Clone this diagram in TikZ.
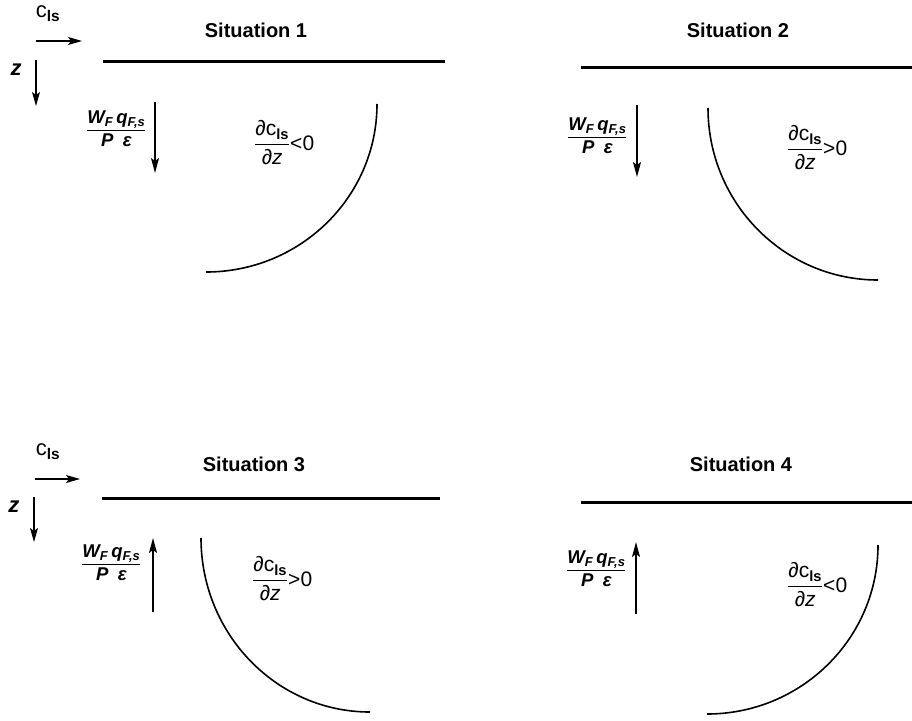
\documentclass[tikz,border=0pt]{standalone}
\usepackage{amsmath}
\usepackage{fontspec}
\setmainfont{Liberation Sans}
\usetikzlibrary{arrows.meta}

\newcommand{\fluxfrac}{$\dfrac{\text{\bfseries\itshape W\textsubscript{F}\,q\textsubscript{F,s}}}{\text{\bfseries\itshape P\enspace ε}}$}
\newcommand{\gradfrac}[1]{$\dfrac{\text{∂c\textsubscript{\bfseries ls}}}{\text{∂\itshape z}}$#1}

\begin{document}
\begin{tikzpicture}[x=1pt, y=-1pt,
  wall/.style={line width=3pt},
  front/.style={line width=1.6pt},
  axis/.style={line width=1.2pt, -{Stealth[length=14pt, width=8pt, inset=3pt]}},
  flux/.style={line width=1.3pt, -{Stealth[length=15pt, width=8pt, inset=3pt]}},
  lab/.style={font=\fontsize{18.5}{22}\selectfont, inner sep=0pt},
  grad/.style={font=\fontsize{21}{24}\selectfont, inner sep=0pt},
  axlab/.style={font=\fontsize{22}{24}\selectfont, inner sep=0pt},
  title/.style={font=\fontsize{20}{24}\selectfont\bfseries, inner sep=0pt}]

\useasboundingbox (0,0) rectangle (912,720);

% axes (situations 1 and 3)
\coordinate (ax1) at (36,41);   \coordinate (ax1x) at (82,41);
\coordinate (az1) at (36,60);   \coordinate (az1z) at (36,106);
\coordinate (ax3) at (35,479);  \coordinate (ax3x) at (80,479);
\coordinate (az3) at (34,497);  \coordinate (az3z) at (34,542);

\draw[axis] (ax1) -- (ax1x);
\draw[axis] (az1) -- (az1z);
\draw[axis] (ax3) -- (ax3x);
\draw[axis] (az3) -- (az3z);

\node[axlab] (cls1) at (48,14) {c\textsubscript{\bfseries ls}};
\node[axlab] (z1) at (16,70) {\bfseries\itshape z};
\node[axlab] (cls3) at (48,452) {c\textsubscript{\bfseries ls}};
\node[axlab] (z3) at (14,507) {\bfseries\itshape z};

% titles
\node[title] (t1) at (256,30) {Situation 1};
\node[title] (t2) at (738,30) {Situation 2};
\node[title] (t3) at (254,464) {Situation 3};
\node[title] (t4) at (741,464) {Situation 4};

% walls
\coordinate (w1a) at (103,61);  \coordinate (w1b) at (445,61);
\coordinate (w2a) at (581,67);  \coordinate (w2b) at (912,67);
\coordinate (w3a) at (102,498); \coordinate (w3b) at (440,498);
\coordinate (w4a) at (581,502); \coordinate (w4b) at (912,502);

\draw[wall] (w1a) -- (w1b);
\draw[wall] (w2a) -- (w2b);
\draw[wall] (w3a) -- (w3b);
\draw[wall] (w4a) -- (w4b);

% flux terms
\node[lab, anchor=base west] (f1) at (86,135) {\fluxfrac};
\node[lab, anchor=base west] (f2) at (567,142) {\fluxfrac};
\node[lab, anchor=base west] (f3) at (81,569) {\fluxfrac};
\node[lab, anchor=base west] (f4) at (566,575) {\fluxfrac};

\coordinate (q1a) at (155,102); \coordinate (q1b) at (155,173);
\coordinate (q2a) at (637,105); \coordinate (q2b) at (637,177);
\coordinate (q3a) at (153,612); \coordinate (q3b) at (153,538);
\coordinate (q4a) at (636,614); \coordinate (q4b) at (636,542);

\draw[flux] (q1a) -- (q1b);
\draw[flux] (q2a) -- (q2b);
\draw[flux] (q3a) -- (q3b);
\draw[flux] (q4a) -- (q4b);

% fronts
\coordinate (c1) at (377,104);
\coordinate (c2) at (708,108);
\coordinate (c3) at (201,538);
\coordinate (c4) at (878,545);

\draw[front] (c1) arc[start angle=0, end angle=90, x radius=171, y radius=168];
\draw[front] (c2) arc[start angle=180, end angle=90, x radius=170, y radius=172];
\draw[front] (c3) arc[start angle=180, end angle=90, x radius=169, y radius=174];
\draw[front] (c4) arc[start angle=0, end angle=90, x radius=171, y radius=169];

% gradients
\node[grad, anchor=base west] (g1) at (254,150) {\gradfrac{<0}};
\node[grad, anchor=base west] (g2) at (787,155) {\gradfrac{>0}};
\node[grad, anchor=base west] (g3) at (252,586) {\gradfrac{>0}};
\node[grad, anchor=base west] (g4) at (787,592) {\gradfrac{<0}};
\end{tikzpicture}
\end{document}
